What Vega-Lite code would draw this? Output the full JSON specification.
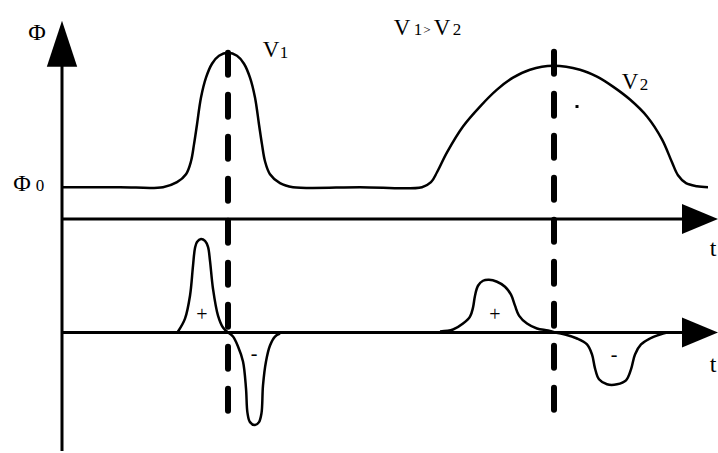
{
  "$schema": "https://vega.github.io/schema/vega-lite/v6.json",
  "width": 718,
  "height": 453,
  "autosize": {"type": "fit", "contains": "padding"},
  "padding": 0,
  "background": "white",
  "config": {"view": {"stroke": null}, "text": {"font": "Liberation Serif", "fill": "black", "fontWeight": "normal"}},
  "datasets": {
    "top": [
      {"x": 63, "y": 188}, {"x": 120, "y": 188}, {"x": 163, "y": 188}, {"x": 177, "y": 183}, {"x": 186, "y": 175},
      {"x": 191, "y": 162}, {"x": 194, "y": 145}, {"x": 197, "y": 125}, {"x": 201, "y": 98}, {"x": 206, "y": 78},
      {"x": 212, "y": 64}, {"x": 219, "y": 56}, {"x": 228, "y": 53}, {"x": 237, "y": 56}, {"x": 244, "y": 64},
      {"x": 250, "y": 78}, {"x": 255, "y": 98}, {"x": 259, "y": 125}, {"x": 262, "y": 145}, {"x": 265, "y": 162},
      {"x": 270, "y": 175}, {"x": 280, "y": 184}, {"x": 293, "y": 188}, {"x": 360, "y": 188}, {"x": 422, "y": 188},
      {"x": 431, "y": 183}, {"x": 437, "y": 173}, {"x": 447, "y": 153}, {"x": 463, "y": 127}, {"x": 480, "y": 107},
      {"x": 497, "y": 90}, {"x": 513, "y": 78}, {"x": 530, "y": 70}, {"x": 553, "y": 66}, {"x": 580, "y": 70},
      {"x": 597, "y": 77}, {"x": 613, "y": 87}, {"x": 630, "y": 100}, {"x": 647, "y": 117}, {"x": 662, "y": 140},
      {"x": 672, "y": 163}, {"x": 678, "y": 176}, {"x": 686, "y": 184}, {"x": 697, "y": 187}, {"x": 708, "y": 188}
    ],
    "bottom": [
      {"seg": "a", "x": 178, "y": 333}, {"seg": "a", "x": 185, "y": 320}, {"seg": "a", "x": 190, "y": 297},
      {"seg": "a", "x": 193, "y": 267}, {"seg": "a", "x": 195, "y": 249}, {"seg": "a", "x": 197, "y": 243},
      {"seg": "a", "x": 201, "y": 240}, {"seg": "a", "x": 205, "y": 242}, {"seg": "a", "x": 208, "y": 248},
      {"seg": "a", "x": 210, "y": 262}, {"seg": "a", "x": 213, "y": 290}, {"seg": "a", "x": 218, "y": 317},
      {"seg": "a", "x": 223, "y": 329}, {"seg": "a", "x": 228, "y": 334},
      {"seg": "b", "x": 228, "y": 334}, {"seg": "b", "x": 233, "y": 338}, {"seg": "b", "x": 238, "y": 348},
      {"seg": "b", "x": 243, "y": 363}, {"seg": "b", "x": 246, "y": 390}, {"seg": "b", "x": 247.5, "y": 415},
      {"seg": "b", "x": 250, "y": 424}, {"seg": "b", "x": 255, "y": 427}, {"seg": "b", "x": 259, "y": 424},
      {"seg": "b", "x": 261.5, "y": 415}, {"seg": "b", "x": 263, "y": 387}, {"seg": "b", "x": 266, "y": 363},
      {"seg": "b", "x": 270, "y": 347}, {"seg": "b", "x": 275, "y": 338}, {"seg": "b", "x": 280, "y": 335},
      {"seg": "c", "x": 440, "y": 333}, {"seg": "c", "x": 453, "y": 331}, {"seg": "c", "x": 463, "y": 325},
      {"seg": "c", "x": 470, "y": 318}, {"seg": "c", "x": 473, "y": 309}, {"seg": "c", "x": 475, "y": 297},
      {"seg": "c", "x": 478, "y": 287}, {"seg": "c", "x": 483, "y": 282}, {"seg": "c", "x": 489, "y": 281},
      {"seg": "c", "x": 497, "y": 283}, {"seg": "c", "x": 505, "y": 288}, {"seg": "c", "x": 511, "y": 296},
      {"seg": "c", "x": 515, "y": 307}, {"seg": "c", "x": 519, "y": 317}, {"seg": "c", "x": 527, "y": 325},
      {"seg": "c", "x": 537, "y": 330}, {"seg": "c", "x": 548, "y": 332}, {"seg": "c", "x": 555, "y": 334},
      {"seg": "d", "x": 555, "y": 334}, {"seg": "d", "x": 565, "y": 336}, {"seg": "d", "x": 577, "y": 340},
      {"seg": "d", "x": 587, "y": 346}, {"seg": "d", "x": 592, "y": 356}, {"seg": "d", "x": 595, "y": 370},
      {"seg": "d", "x": 599, "y": 381}, {"seg": "d", "x": 607, "y": 386}, {"seg": "d", "x": 617, "y": 386},
      {"seg": "d", "x": 626, "y": 382}, {"seg": "d", "x": 631, "y": 371}, {"seg": "d", "x": 635, "y": 356},
      {"seg": "d", "x": 641, "y": 346}, {"seg": "d", "x": 650, "y": 340}, {"seg": "d", "x": 660, "y": 336},
      {"seg": "d", "x": 667, "y": 334}
    ]
  },
  "encoding": {
    "x": {"field": "x", "type": "quantitative", "scale": {"domain": [0, 718], "nice": false, "zero": false}, "axis": null},
    "y": {"field": "y", "type": "quantitative", "scale": {"domain": [0, 453], "nice": false, "zero": false, "reverse": true}, "axis": null}
  },
  "layer": [
    {
      "data": {"values": [
        {"x": 62, "y": 453, "x2": 62, "y2": 60},
        {"x": 62, "y": 220, "x2": 690, "y2": 220},
        {"x": 62, "y": 334, "x2": 690, "y2": 334}
      ]},
      "mark": {"type": "rule", "color": "black", "strokeWidth": 3},
      "encoding": {"x2": {"field": "x2"}, "y2": {"field": "y2"}}
    },
    {
      "data": {"values": [{"x": 62, "y": 44}]},
      "mark": {"type": "point", "filled": true, "color": "black", "opacity": 1, "size": 2116, "shape": "M 0 -1 L 0.66 1 L -0.66 1 Z"},
      "encoding": {}
    },
    {
      "data": {"values": [{"x": 700, "y": 220}, {"x": 700, "y": 334}]},
      "mark": {"type": "point", "filled": true, "color": "black", "opacity": 1, "size": 1296, "shape": "M 1 0 L -1 0.83 L -1 -0.83 Z"},
      "encoding": {}
    },
    {
      "data": {"values": [
        {"x": 228, "y": 53, "x2": 228, "y2": 417},
        {"x": 554, "y": 52, "x2": 554, "y2": 417}
      ]},
      "mark": {"type": "rule", "color": "black", "strokeWidth": 6, "strokeDash": [22, 20], "strokeCap": "round"},
      "encoding": {"x2": {"field": "x2"}, "y2": {"field": "y2"}}
    },
    {
      "data": {"name": "top"},
      "mark": {"type": "line", "color": "black", "strokeWidth": 2.5, "interpolate": "catmull-rom"},
      "encoding": {}
    },
    {
      "data": {"name": "bottom"},
      "mark": {"type": "line", "color": "black", "strokeWidth": 2.5, "interpolate": "catmull-rom"},
      "encoding": {"detail": {"field": "seg"}}
    },
    {
      "data": {"values": [{"x": 577, "y": 107}]},
      "mark": {"type": "square", "filled": true, "color": "black", "opacity": 1, "size": 9},
      "encoding": {}
    },
    {
      "data": {"values": [
        {"x": 37, "y": 33, "t": "Φ"},
        {"x": 22, "y": 185, "t": "Φ"},
        {"x": 713, "y": 250, "t": "t"},
        {"x": 713, "y": 367, "t": "t"}
      ]},
      "mark": {"type": "text", "fontSize": 24, "fill": "black", "align": "center", "baseline": "middle"},
      "encoding": {"text": {"field": "t"}}
    },
    {
      "data": {"values": [
        {"x": 271, "y": 50, "t": "V"},
        {"x": 402, "y": 28, "t": "V"},
        {"x": 442, "y": 28, "t": "V"},
        {"x": 630, "y": 82, "t": "V"}
      ]},
      "mark": {"type": "text", "fontSize": 23, "fill": "black", "align": "center", "baseline": "middle"},
      "encoding": {"text": {"field": "t"}}
    },
    {
      "data": {"values": [
        {"x": 40, "y": 187, "t": "0"},
        {"x": 284, "y": 53, "t": "1"},
        {"x": 418, "y": 30, "t": "1"},
        {"x": 457, "y": 30, "t": "2"},
        {"x": 644, "y": 85, "t": "2"}
      ]},
      "mark": {"type": "text", "fontSize": 17, "fill": "black", "align": "center", "baseline": "middle"},
      "encoding": {"text": {"field": "t"}}
    },
    {
      "data": {"values": [{"x": 427, "y": 30, "t": ">"}]},
      "mark": {"type": "text", "fontSize": 13, "fill": "black", "align": "center", "baseline": "middle"},
      "encoding": {"text": {"field": "t"}}
    },
    {
      "data": {"values": [
        {"x": 202, "y": 316, "t": "+"},
        {"x": 495, "y": 316, "t": "+"},
        {"x": 254, "y": 356, "t": "-"},
        {"x": 614, "y": 357, "t": "-"}
      ]},
      "mark": {"type": "text", "fontSize": 20, "fill": "black", "align": "center", "baseline": "middle"},
      "encoding": {"text": {"field": "t"}}
    }
  ]
}
